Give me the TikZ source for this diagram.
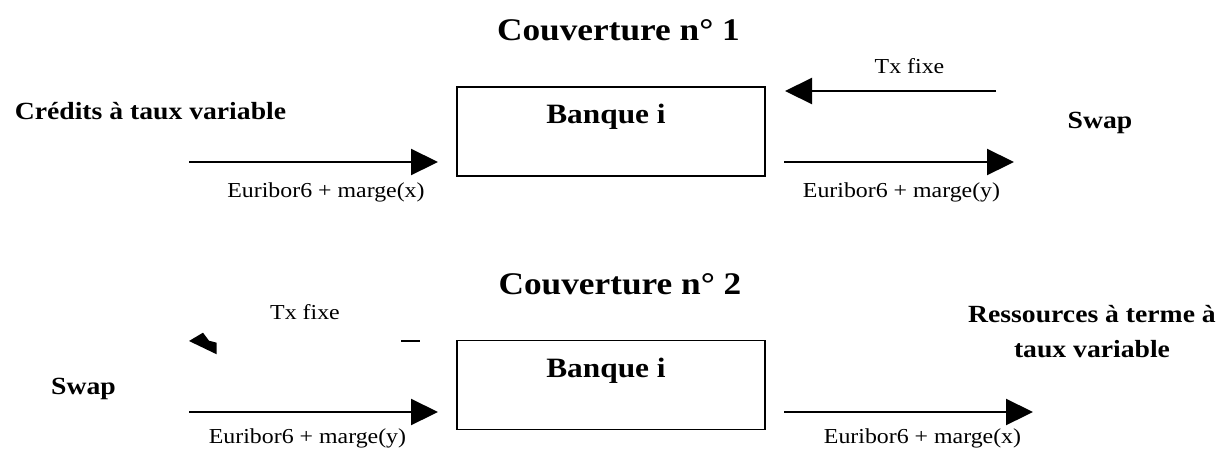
\documentclass[tikz,border=0pt]{standalone}
\usepackage{fontspec}
\setmainfont{Liberation Serif}[FakeStretch=1.12]
\usetikzlibrary{arrows.meta}
\tikzset{
  flow/.style={line width=2.2pt, -{Triangle[length=27pt,width=26pt]}},
  bank/.style={draw, line width=1.8pt, minimum width=308pt, minimum height=89pt, inner sep=0pt},
  lab/.style={inner sep=0pt, anchor=base, font=\fontsize{21.3}{25}\selectfont},
  bold/.style={inner sep=0pt, anchor=base, font=\fontsize{24.7}{35}\selectfont\bfseries},
  banktxt/.style={inner sep=0pt, anchor=base, font=\fontsize{28}{32}\selectfont\bfseries},
  title/.style={inner sep=0pt, anchor=base, font=\fontsize{31.5}{36}\selectfont\bfseries},
}
\begin{document}
\begin{tikzpicture}[x=1pt,y=-1pt]
\useasboundingbox (0,0) rectangle (1231,448);
% ---------- Couverture 1 ----------
\node[title] (t1) at (618.5,40) {Couverture n° 1};
\node[bank] (b1) at (611,131.5) {};
\node[banktxt] (bt1) at (606,123) {Banque i};
\node[bold] (cr) at (150.5,119) {Crédits à taux variable};
\node[bold] (sw1) at (1100,128) {Swap};
\node[lab] (tx1) at (909.5,73) {Tx fixe};
\node[lab] (e1x) at (326,197) {Euribor6 + marge(x)};
\node[lab] (e1y) at (901.5,197) {Euribor6 + marge(y)};
\coordinate (a1s) at (189,162);
\coordinate (a1e) at (438,162);
\coordinate (a2s) at (784,162);
\coordinate (a2e) at (1014,162);
\coordinate (a3s) at (996,91);
\coordinate (a3e) at (785,91);
\draw[flow] (a1s) -- (a1e);
\draw[flow] (a2s) -- (a2e);
\draw[flow] (a3s) -- (a3e);
% ---------- Couverture 2 ----------
\node[title] (t2) at (620,294) {Couverture n° 2};
\node[bank] (b2) at (611,385) {};
\node[banktxt] (bt2) at (606,377) {Banque i};
\node[bold] (sw2) at (83.5,394) {Swap};
\node[bold, align=center] (res) at (1092,357) {Ressources à terme à\\taux variable};
\node[lab] (tx2) at (305,319) {Tx fixe};
\node[lab] (e2y) at (307.5,443) {Euribor6 + marge(y)};
\node[lab] (e2x) at (922.5,443) {Euribor6 + marge(x)};
\coordinate (b1s) at (189,412);
\coordinate (b1e) at (438,412);
\coordinate (b2s) at (784,412);
\coordinate (b2e) at (1033,412);
\draw[flow] (b1s) -- (b1e);
\draw[flow] (b2s) -- (b2e);
% broken Tx fixe arrow (only fragments visible)
\coordinate (d1) at (401,341);
\coordinate (d2) at (420,341);
\draw[line width=2.2pt] (d1) -- (d2);
\fill (189,341) -- (203,332.7) -- (209,340.7) -- (216.7,342.7) -- (216.7,354.3) -- cycle;
\end{tikzpicture}
\end{document}
